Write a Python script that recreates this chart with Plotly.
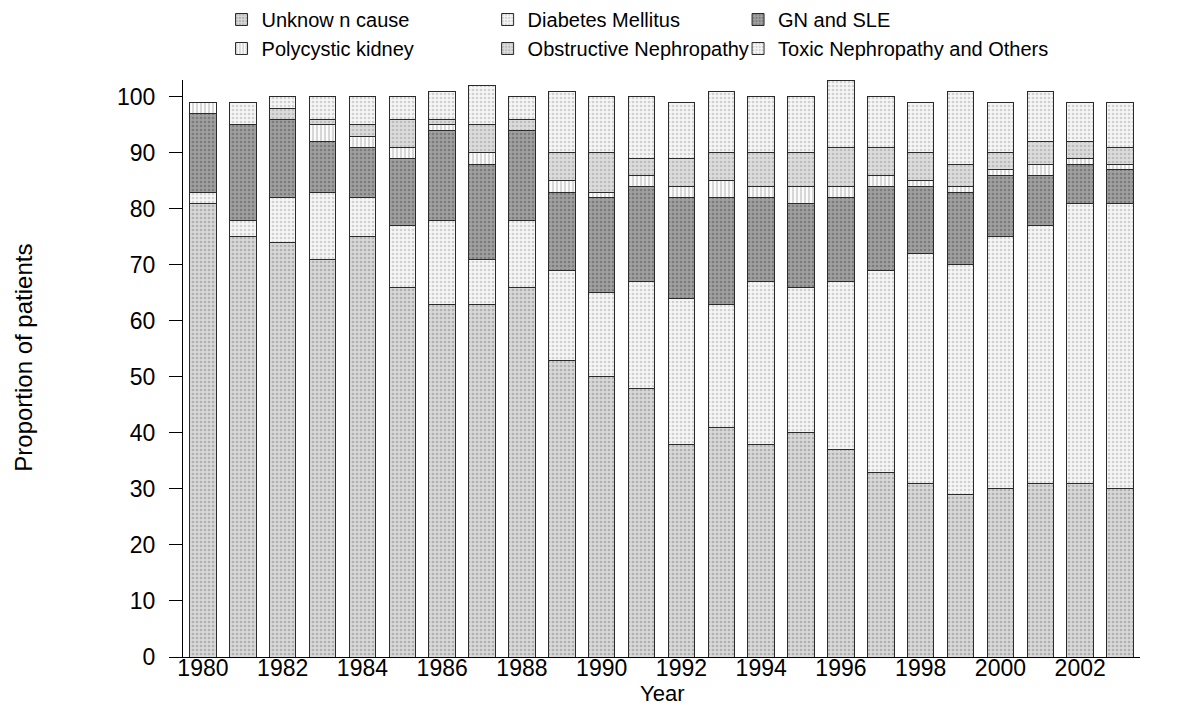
import plotly.graph_objects as go

# Causes of ESRD by year of start (proportion of patients, %)
years = list(range(1980, 2004))

unknown = [81, 75, 74, 71, 75, 66, 63, 63, 66, 53, 50, 48,
           38, 41, 38, 40, 37, 33, 31, 29, 30, 31, 31, 30]
diabetes = [2, 3, 8, 12, 7, 11, 15, 8, 12, 16, 15, 19,
            26, 22, 29, 26, 30, 36, 41, 41, 45, 46, 50, 51]
gn_sle = [14, 17, 14, 9, 9, 12, 16, 17, 16, 14, 17, 17,
          18, 19, 15, 15, 15, 15, 12, 13, 11, 9, 7, 6]
polycystic = [2, 0, 0, 3, 2, 2, 1, 2, 0, 2, 1, 2,
              2, 3, 2, 3, 2, 2, 1, 1, 1, 2, 1, 1]
obstructive = [0, 0, 2, 1, 2, 5, 1, 5, 2, 5, 7, 3,
               5, 5, 6, 6, 7, 5, 5, 4, 3, 4, 3, 3]
toxic = [0, 4, 2, 4, 5, 4, 5, 7, 4, 11, 10, 11,
         10, 11, 10, 10, 12, 9, 9, 13, 9, 9, 7, 8]

tick_years = list(range(1980, 2004, 2))

# name, values, fill, texture colour, texture shape, legend column
series = [
    ("Unknow n cause", unknown, "#d8d8d8", "#b0b0b0", ".", "legend"),
    ("Diabetes Mellitus", diabetes, "#f6f6f6", "#d0d0d0", ".", "legend2"),
    ("GN and SLE", gn_sle, "#a0a0a0", "#7c7c7c", ".", "legend3"),
    ("Polycystic kidney", polycystic, "#fbfbfb", "#c8c8c8", "|", "legend"),
    ("Obstructive Nephropathy", obstructive, "#dcdcdc", "#bcbcbc", ".", "legend2"),
    ("Toxic Nephropathy and Others", toxic, "#f6f6f6", "#d0d0d0", ".", "legend3"),
]

fig = go.Figure()
for name, vals, bg, fg, shape, leg in series:
    fig.add_trace(go.Bar(
        x=years, y=vals, name=name, legend=leg,
        marker=dict(
            color=bg,
            line=dict(color="#2a2a2a", width=1),
            pattern=dict(shape=shape, bgcolor=bg, fgcolor=fg,
                         size=4, solidity=0.35, fillmode="replace"),
        ),
    ))

legend_style = dict(
    orientation="v",
    xanchor="left", xref="container",
    y=1.0, yref="container", yanchor="top",
    font=dict(size=20),
    traceorder="normal",
    bgcolor="rgba(0,0,0,0)",
    borderwidth=0,
)

fig.update_layout(
    barmode="stack",
    bargap=0.335,
    width=1204, height=707,
    margin=dict(l=183, r=64, t=80, b=50, autoexpand=False),
    plot_bgcolor="white",
    paper_bgcolor="white",
    font=dict(family="Liberation Sans, Arial", size=23, color="black"),
    legend=dict(legend_style, x=0.184),
    legend2=dict(legend_style, x=0.405),
    legend3=dict(legend_style, x=0.613),
)

# axis titles
fig.add_annotation(text="Year", xref="paper", yref="paper", x=0.5, y=-0.064,
                   xanchor="center", yanchor="middle", showarrow=False,
                   font=dict(size=22), borderpad=0)
fig.add_annotation(text="Proportion of patients", xref="paper", yref="paper",
                   x=-0.167, y=0.519, textangle=-90, xanchor="center",
                   yanchor="middle", showarrow=False, font=dict(size=24))

fig.update_xaxes(
    range=[1979.5, 2003.5],
    tickvals=tick_years,
    ticktext=[str(y) for y in tick_years],
    showline=True, linecolor="black", linewidth=1,
    ticks="", ticklabelstandoff=-10,
    showgrid=False, zeroline=False,
    automargin=False,
)
fig.update_yaxes(
    range=[0, 103],
    tickvals=list(range(0, 101, 10)),
    showline=True, linecolor="black", linewidth=1,
    ticks="outside", ticklen=13, tickcolor="black", ticklabelstandoff=9,
    showgrid=False, zeroline=False,
    automargin=False,
)

fig.write_html("out.html", config={"displayModeBar": False},
               post_script="document.body.style.margin='0px';")
